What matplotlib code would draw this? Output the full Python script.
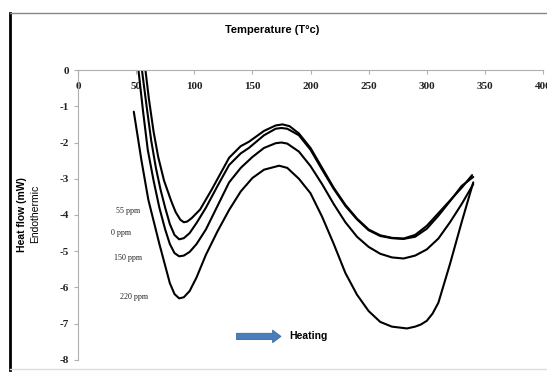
import matplotlib
matplotlib.use("Agg")
import matplotlib.pyplot as plt
from matplotlib.lines import Line2D

# DSC heat-flow traces, one per concentration
temp_55 = [58, 61, 65, 69, 74, 80, 84, 88, 91, 94, 98, 105, 115, 130, 140, 147, 160, 170, 176,
           182, 190, 200, 210, 220, 230, 240, 250, 260, 270, 280, 290, 300, 310, 320, 330, 339]
flow_55 = [0.0, -0.8, -1.7, -2.4, -3.05, -3.6, -3.92, -4.13, -4.2, -4.18, -4.08, -3.85, -3.3,
           -2.42, -2.1, -1.98, -1.68, -1.53, -1.5, -1.55, -1.75, -2.15, -2.7, -3.25, -3.72,
           -4.1, -4.4, -4.56, -4.63, -4.65, -4.55, -4.3, -3.95, -3.6, -3.25, -2.9]

temp_0 = [55, 59, 63, 67, 71, 75, 79, 83, 87, 91, 96, 102, 110, 120, 130, 140, 147, 160, 170,
          175, 180, 190, 200, 210, 220, 230, 240, 250, 260, 270, 280, 290, 300, 310, 320, 330,
          340]
flow_0 = [0.0, -1.0, -1.95, -2.7, -3.3, -3.8, -4.25, -4.55, -4.67, -4.64, -4.5, -4.22, -3.8,
          -3.2, -2.62, -2.3, -2.15, -1.8, -1.62, -1.6, -1.62, -1.8, -2.2, -2.75, -3.28, -3.75,
          -4.12, -4.42, -4.58, -4.64, -4.66, -4.6, -4.38, -4.02, -3.62, -3.2, -2.95]

temp_150 = [52, 56, 60, 65, 70, 75, 79, 83, 87, 91, 96, 102, 110, 120, 130, 140, 150, 160,
            170, 175, 180, 190, 200, 210, 220, 230, 240, 250, 260, 270, 280, 290, 300, 310,
            320, 330, 340]
flow_150 = [0.0, -1.15, -2.2, -3.05, -3.8, -4.4, -4.8, -5.05, -5.14, -5.12, -5.02, -4.8, -4.4,
            -3.75, -3.1, -2.7, -2.4, -2.15, -2.02, -2.0, -2.03, -2.25, -2.65, -3.15, -3.7,
            -4.2, -4.6, -4.88, -5.07, -5.17, -5.2, -5.12, -4.95, -4.65, -4.2, -3.7, -3.15]

temp_220 = [48, 54.5, 60.5, 70, 75, 79, 83, 87, 91, 96, 102, 110, 120, 130, 140, 150, 160, 173,
            180, 190, 200, 210, 220, 230, 240, 250, 260, 270, 283, 290, 295, 300, 305, 310,
            320, 330, 340]
flow_220 = [-1.15, -2.48, -3.58, -4.8, -5.4, -5.88, -6.18, -6.3, -6.27, -6.1, -5.72, -5.1,
            -4.45, -3.86, -3.35, -2.98, -2.75, -2.64, -2.7, -3.0, -3.4, -4.05, -4.8, -5.6,
            -6.2, -6.65, -6.95, -7.08, -7.13, -7.08, -7.02, -6.92, -6.72, -6.42, -5.35,
            -4.2, -3.1]

series = [
    (temp_55, flow_55, "55 ppm", (43, -3.9)),
    (temp_0, flow_0, "0 ppm", (37, -4.5)),
    (temp_150, flow_150, "150 ppm", (43, -5.2)),
    (temp_220, flow_220, "220 ppm", (48, -6.25)),
]

x_ticks = [0, 50, 100, 150, 200, 250, 300, 350, 400]
y_ticks = [0, -1, -2, -3, -4, -5, -6, -7, -8]

serif = ["Liberation Serif", "DejaVu Serif"]
narrow = ["Liberation Sans Narrow", "Liberation Sans", "DejaVu Sans"]

fig = plt.figure(figsize=(5.47, 3.76), dpi=100)
ax = fig.add_axes([0.1426, 0.0426, 0.8501, 0.7712])

for temp, flow, label, pos in series:
    ax.plot(temp, flow, color="black", lw=1.5, solid_capstyle="round",
            solid_joinstyle="round")
    ax.text(pos[0], pos[1], label, fontsize=5.8, family=serif,
            ha="center", va="center", color="#222222")

ax.set_xlim(0, 400)
ax.set_ylim(-8, 0)

# x axis sits on the y = 0 line with labels hanging underneath it
for side in ("right", "bottom"):
    ax.spines[side].set_visible(False)
ax.spines["top"].set_color("#b0b0b0")
ax.spines["left"].set_color("#b0b0b0")
ax.xaxis.set_ticks_position("top")
ax.set_xticks(x_ticks)
ax.set_yticks(y_ticks)
ax.set_yticklabels([str(v) for v in y_ticks])
ax.tick_params(axis="x", direction="in", length=3, color="#b0b0b0",
               labeltop=True, pad=-15, labelsize=8)
ax.tick_params(axis="y", direction="out", length=3, color="#b0b0b0", labelsize=8)
for lab in ax.get_xticklabels() + ax.get_yticklabels():
    lab.set_family(serif)
    lab.set_fontweight("bold")
    lab.set_color("#222222")

fig.text(0.497, 0.92, "Temperature (T°c)", fontsize=8, fontweight="bold",
         family=narrow, ha="center", va="center")
fig.text(0.04, 0.43, "Heat flow (mW)", fontsize=7.5, fontweight="bold",
         family=narrow, rotation=90, ha="center", va="center")
fig.text(0.064, 0.43, "Endothermic", fontsize=7.5,
         family=narrow, rotation=90, ha="center", va="center")

# heating direction arrow
ax.annotate("", xy=(177, -7.35), xytext=(134, -7.35),
            arrowprops=dict(arrowstyle="simple,head_width=0.9,head_length=0.6,tail_width=0.45",
                            fc="#4a7ebb", ec="#3a6aa0", lw=0.6))
ax.text(182, -7.35, "Heating", fontsize=7.5, fontweight="bold", family=narrow,
        ha="left", va="center")

# chart frame
fig.add_artist(Line2D([10 / 547, 10 / 547], [1 - 13 / 376, 1 - 370 / 376],
                      transform=fig.transFigure, color="black", lw=2))
fig.add_artist(Line2D([10 / 547, 1.0], [1 - 13 / 376, 1 - 13 / 376],
                      transform=fig.transFigure, color="#888888", lw=1))
fig.add_artist(Line2D([10 / 547, 1.0], [1 - 369 / 376, 1 - 369 / 376],
                      transform=fig.transFigure, color="#dddddd", lw=1))

fig.savefig("out.png", dpi=100)
